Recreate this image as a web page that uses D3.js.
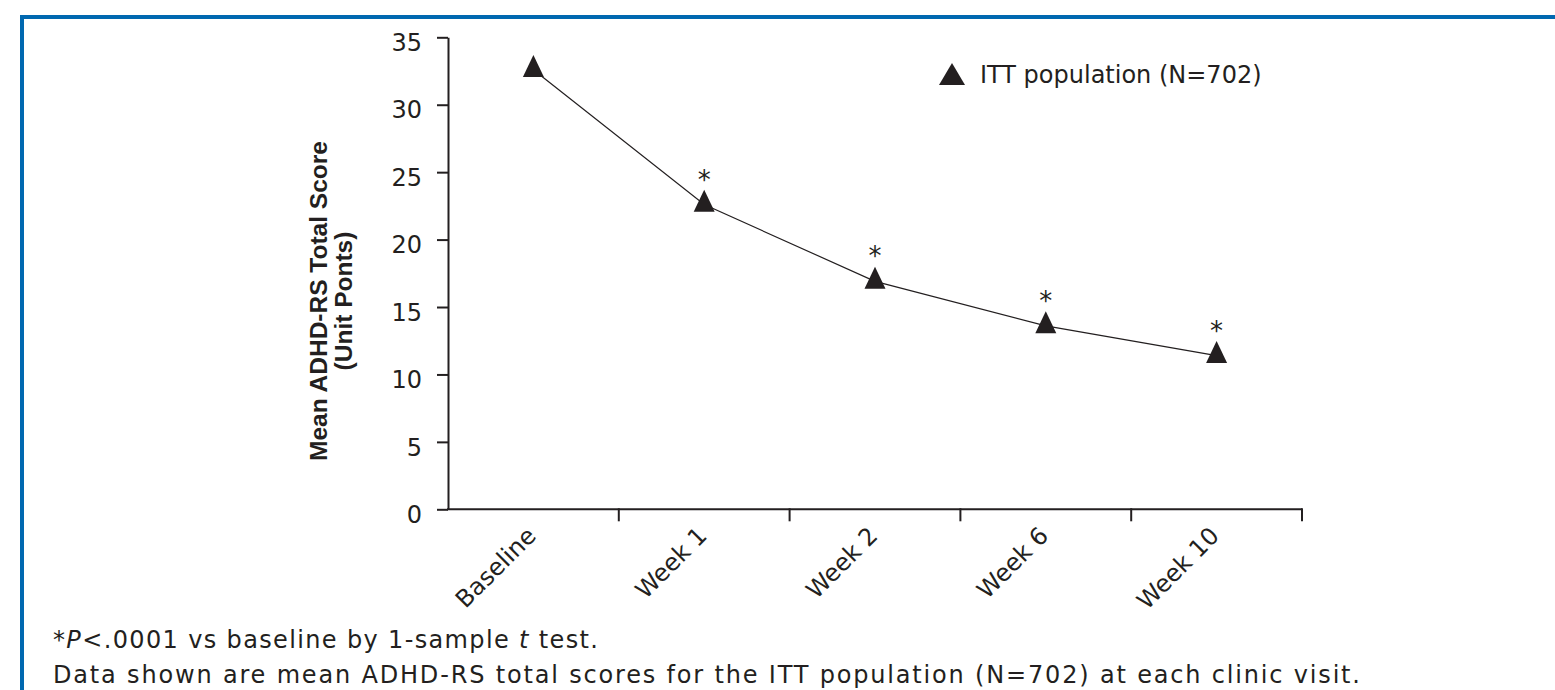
<!DOCTYPE html>
<html>
<head>
<meta charset="utf-8">
<script src="https://cdn.jsdelivr.net/npm/d3@7"></script>
<style>
  body { margin: 0; background: #fff; }
  svg { display: block; font-family: "DejaVu Sans", "Liberation Sans", Arial, sans-serif; }
</style>
</head>
<body>
<div id="wrapper"></div>
<script>
// visits and mean ADHD-RS totals
const visits = ["Baseline", "Week 1", "Week 2", "Week 6", "Week 10"];
const meanScores = [32.6, 22.6, 16.9, 13.6, 11.4];
const significant = [false, true, true, true, true];
const yTicks = [0, 5, 10, 15, 20, 25, 30, 35];
const seriesLabel = "ITT population (N=702)";
const yTitle = ["Mean ADHD-RS Total Score", "(Unit Ponts)"];

const ink = "#231f20";
const bodyFont = "DejaVu Sans, Liberation Sans, Arial, sans-serif";

function drawChart() {
    const dimensions = {
        width: 1555,
        height: 690,
        left: 448,
        right: 1302,
        top: 37.3,
        bottom: 509.3,
    };

    const svg = d3.select("#wrapper")
        .append("svg")
            .attr("width", dimensions.width)
            .attr("height", dimensions.height);

    // blue frame, top and left edges
    svg.append("path")
        .attr("d", `M22,${dimensions.height} L22,17 L${dimensions.width},17`)
        .attr("fill", "none")
        .attr("stroke", "#0068b0")
        .attr("stroke-width", 4);

    const xScale = d3.scaleBand()
        .domain(visits)
        .range([dimensions.left, dimensions.right]);

    const yScale = d3.scaleLinear()
        .domain([0, 35])
        .range([dimensions.bottom, dimensions.top]);

    const xCenter = d => xScale(d) + xScale.bandwidth() / 2;

    // y axis
    const yAxis = svg.append("g")
        .attr("transform", `translate(${dimensions.left},0)`)
        .call(d3.axisLeft(yScale).tickValues(yTicks).tickSize(11).tickSizeOuter(0).tickPadding(15));
    yAxis.select(".domain").attr("stroke", ink).attr("stroke-width", 2);
    yAxis.selectAll(".tick line").attr("stroke", ink).attr("stroke-width", 2);
    yAxis.selectAll(".tick text")
        .attr("font-size", 24)
        .attr("font-family", bodyFont)
        .attr("fill", ink)
        .attr("dy", "0.55em");

    // x axis: baseline plus ticks on band edges
    const xAxis = svg.append("g")
        .attr("transform", `translate(0,${dimensions.bottom})`);
    xAxis.append("line")
        .attr("x1", dimensions.left - 1)
        .attr("x2", dimensions.right)
        .attr("stroke", ink)
        .attr("stroke-width", 2);
    const edges = visits.slice(1).map(v => xScale(v)).concat(xScale.range()[1]);
    xAxis.selectAll(".edge")
        .data(edges)
        .join("line")
            .attr("class", "edge")
            .attr("x1", d => d)
            .attr("x2", d => d)
            .attr("y1", -1)
            .attr("y2", 12)
            .attr("stroke", ink)
            .attr("stroke-width", 2);
    xAxis.selectAll(".label")
        .data(visits)
        .join("text")
            .attr("class", "label")
            .attr("transform", d => `translate(${xCenter(d) + 4},${28}) rotate(-45)`)
            .attr("text-anchor", "end")
            .attr("font-size", 24)
            .attr("fill", ink)
            .text(d => d);

    // y title
    const title = svg.append("text")
        .attr("transform", `translate(0,301) rotate(-90)`)
        .attr("text-anchor", "middle")
        .attr("font-family", "Liberation Sans, Arial, sans-serif")
        .attr("font-size", 24.5)
        .attr("font-weight", "bold")
        .attr("fill", ink);
    title.selectAll("tspan")
        .data(yTitle)
        .join("tspan")
            .attr("x", 0)
            .attr("y", (d, i) => 327 + i * 25)
            .text(d => d);

    // line
    const lineGenerator = d3.line()
        .x((d, i) => xCenter(visits[i]))
        .y(d => yScale(d));

    svg.append("path")
        .attr("d", lineGenerator(meanScores))
        .attr("fill", "none")
        .attr("stroke", ink)
        .attr("stroke-width", 1.2);

    const triangle = (w, h) => `M0,${-h * 2 / 3} L${w / 2},${h / 3} L${-w / 2},${h / 3} Z`;

    svg.selectAll(".marker")
        .data(meanScores)
        .join("path")
            .attr("class", "marker")
            .attr("d", triangle(21, 22))
            .attr("transform", (d, i) => `translate(${xCenter(visits[i])},${yScale(d)})`)
            .attr("fill", ink);

    svg.selectAll(".star")
        .data(meanScores.map((d, i) => ({ v: d, i })).filter(d => significant[d.i]))
        .join("text")
            .attr("class", "star")
            .attr("x", d => xCenter(visits[d.i]))
            .attr("y", d => yScale(d.v) - 16)
            .attr("text-anchor", "middle")
            .attr("font-size", 26)
            .attr("fill", ink)
            .text("*");

    // legend
    const legend = svg.append("g").attr("transform", "translate(952,77.7)");
    legend.append("path")
        .attr("d", triangle(26, 22))
        .attr("fill", ink);
    legend.append("text")
        .attr("x", 28)
        .attr("y", 5.6)
        .attr("font-size", 24)
        .attr("fill", ink)
        .text(seriesLabel);

    // footnotes
    const note1 = svg.append("text")
        .attr("x", 53)
        .attr("y", 648)
        .attr("font-size", 24)
        .attr("textLength", 545)
        .attr("lengthAdjust", "spacing")
        .attr("fill", ink);
    note1.append("tspan").text("*");
    note1.append("tspan").attr("font-style", "italic").text("P");
    note1.append("tspan").text("<.0001 vs baseline by 1-sample ");
    note1.append("tspan").attr("font-style", "italic").text("t");
    note1.append("tspan").text(" test.");

    svg.append("text")
        .attr("x", 53)
        .attr("y", 683)
        .attr("font-size", 24)
        .attr("textLength", 1307)
        .attr("lengthAdjust", "spacing")
        .attr("fill", ink)
        .text("Data shown are mean ADHD-RS total scores for the ITT population (N=702) at each clinic visit.");
}

drawChart();
</script>
</body>
</html>
